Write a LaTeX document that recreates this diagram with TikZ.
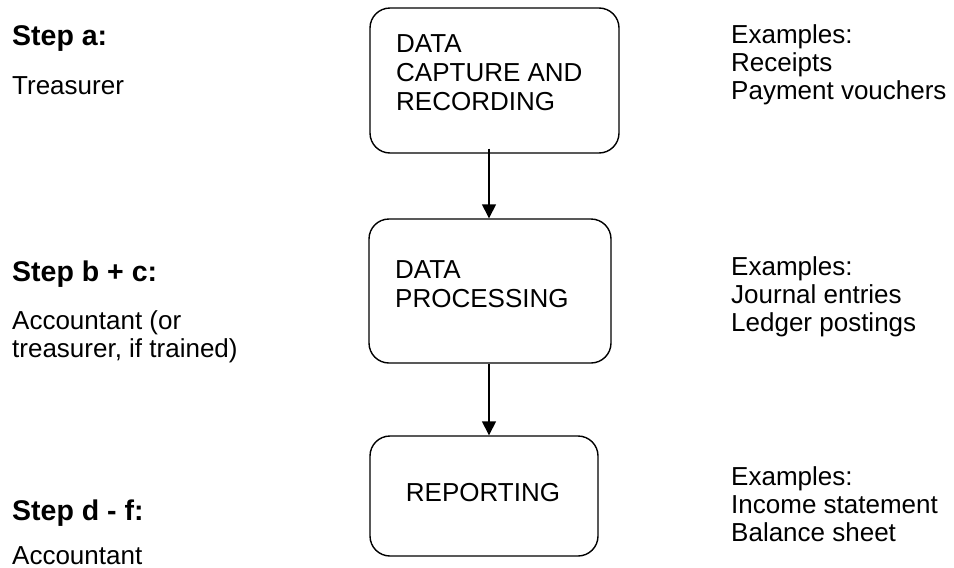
\documentclass[tikz,border=0pt]{standalone}
\usepackage{fontspec}
\setmainfont{Liberation Sans}
\usetikzlibrary{arrows.meta}
\begin{document}
\begin{tikzpicture}[x=1pt,y=-1pt,
  boxnode/.style={draw,line width=1.4pt,rounded corners=20pt,inner sep=0pt},
  txt/.style={anchor=base west,inner sep=0pt,align=left,font=\fontsize{26}{28}\selectfont},
  boxtxt/.style={inner sep=0pt,align=left,font=\fontsize{26}{29}\selectfont},
  steptxt/.style={anchor=base west,inner sep=0pt,font=\fontsize{28.5}{30}\selectfont\bfseries},
  arr/.style={line width=1.4pt,-{Triangle[length=14pt,width=14pt]}}]
\useasboundingbox (0,0) rectangle (954,568);
% boxes
\node[boxnode,minimum width=249pt,minimum height=145pt] (b1) at (494.5,80.5) {};
\node[boxnode,minimum width=242pt,minimum height=144pt] (b2) at (490,291) {};
\node[boxnode,minimum width=228pt,minimum height=120pt] (b3) at (484,496) {};
% box texts (anchor = baseline of last line)
\node[boxtxt,anchor=base west] (t1) at (396,110) {DATA\\CAPTURE AND\\RECORDING};
\node[boxtxt,anchor=base west] (t2) at (395,307) {DATA\\PROCESSING};
\node[boxtxt,anchor=base] (t3) at (483,501) {REPORTING};
% arrows
\draw[arr] ([xshift=-5.5pt,yshift=5pt]b1.south) -- ([xshift=-1pt]b2.north);
\draw[arr] ([xshift=-1pt]b2.south) -- ([xshift=5pt]b3.north);
% left column
\node[steptxt] (sa) at (12,45) {Step a:};
\node[txt] (ra) at (12,94) {Treasurer};
\node[steptxt] (sb) at (12,281) {Step b + c:};
\node[txt] (rb) at (12,357) {Accountant (or\\treasurer, if trained)};
\node[steptxt] (sd) at (12,520) {Step d - f:};
\node[txt] (rd) at (12,564) {Accountant};
% right column
\node[txt] (e1) at (731,99) {Examples:\\Receipts\\Payment vouchers};
\node[txt] (e2) at (731,331) {Examples:\\Journal entries\\Ledger postings};
\node[txt] (e3) at (731,541) {Examples:\\Income statement\\Balance sheet};
\end{tikzpicture}
\end{document}
